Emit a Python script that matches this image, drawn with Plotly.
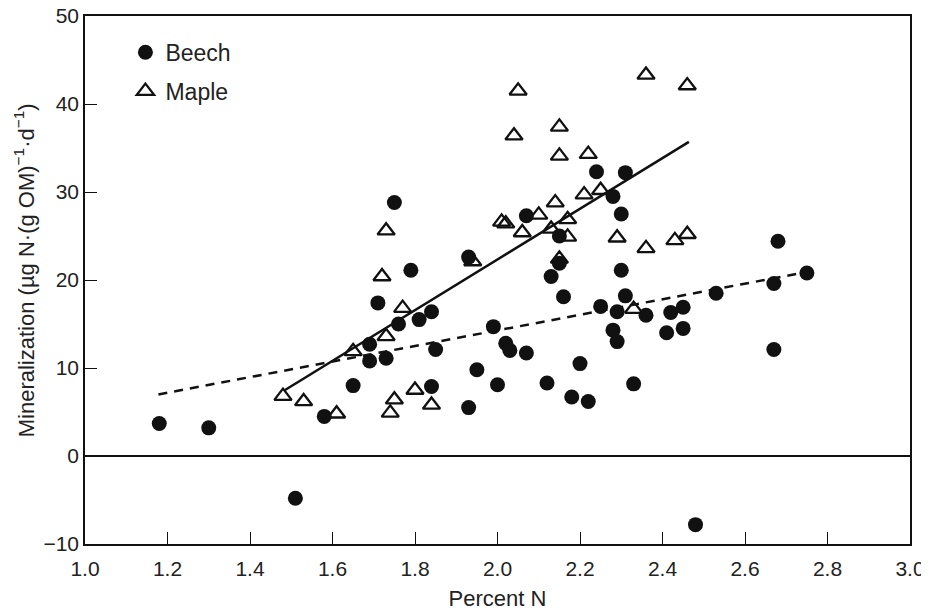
import plotly.graph_objects as go

# ---- data ----
beech_x = [1.18, 1.30, 1.51, 1.58, 1.65, 1.69, 1.69, 1.73, 1.71, 1.76,
           1.81, 1.84, 1.79, 1.75, 1.85, 1.84, 1.93, 1.93, 1.95, 1.99,
           2.02, 2.03, 2.00, 2.07, 2.07, 2.12, 2.13, 2.15, 2.15, 2.16,
           2.18, 2.20, 2.22, 2.24, 2.31, 2.28, 2.30, 2.30, 2.31, 2.25,
           2.29, 2.28, 2.29, 2.33, 2.36, 2.41, 2.42, 2.45, 2.45, 2.48,
           2.53, 2.67, 2.68, 2.67, 2.75]
beech_y = [3.7, 3.2, -4.8, 4.5, 8.0, 12.7, 10.8, 11.1, 17.4, 15.0,
           15.5, 16.4, 21.1, 28.8, 12.1, 7.9, 22.6, 5.5, 9.8, 14.7,
           12.8, 12.0, 8.1, 11.7, 27.3, 8.3, 20.4, 21.9, 25.0, 18.1,
           6.7, 10.5, 6.2, 32.3, 32.2, 29.5, 27.5, 21.1, 18.2, 17.0,
           16.4, 14.3, 13.0, 8.2, 16.0, 14.0, 16.3, 14.5, 16.9, -7.8,
           18.5, 19.6, 24.4, 12.1, 20.8]

maple_x = [1.48, 1.53, 1.61, 1.65, 1.73, 1.72, 1.73, 1.77, 1.75, 1.74,
           1.80, 1.84, 1.94, 2.01, 2.02, 2.05, 2.04, 2.10, 2.06, 2.13,
           2.14, 2.15, 2.15, 2.15, 2.17, 2.17, 2.21, 2.22, 2.25, 2.29,
           2.33, 2.36, 2.36, 2.43, 2.46, 2.46]
maple_y = [6.8, 6.2, 4.8, 11.9, 13.6, 20.4, 25.6, 16.8, 6.4, 4.9,
           7.5, 5.8, 22.1, 26.6, 26.4, 41.5, 36.4, 27.4, 25.4, 25.8,
           28.8, 37.4, 34.1, 22.4, 26.9, 24.9, 29.7, 34.3, 30.2, 24.8,
           16.7, 43.3, 23.6, 24.5, 42.1, 25.2]

# regression lines (end points)
maple_fit_x = [1.485, 2.464]
maple_fit_y = [7.5, 35.7]
beech_fit_x = [1.178, 2.76]
beech_fit_y = [7.0, 21.0]

x_ticks = [1.0, 1.2, 1.4, 1.6, 1.8, 2.0, 2.2, 2.4, 2.6, 2.8, 3.0]
y_ticks = [-10, 0, 10, 20, 30, 40, 50]

x_title = "Percent N"
y_title = "Mineralization (\u00b5g N\u00b7(g OM)<sup>\u22121</sup>\u00b7d<sup>\u22121</sup>)"

FONT = "Liberation Sans, Arial, sans-serif"
INK = "#111111"
TXT = "#222222"

fig = go.Figure()

fig.add_trace(go.Scatter(
    x=maple_x, y=maple_y, mode="markers", name="Maple",
    legendgroup="m", legendrank=2,
    marker=dict(symbol="triangle-up-open", size=15, color=INK,
                line=dict(width=2.3, color=INK)),
))
fig.add_trace(go.Scatter(
    x=beech_x, y=beech_y, mode="markers", name="Beech",
    legendgroup="b", legendrank=1,
    marker=dict(symbol="circle", size=15, color=INK,
                line=dict(width=0)),
))
fig.add_trace(go.Scatter(
    x=maple_fit_x, y=maple_fit_y, mode="lines", showlegend=False,
    line=dict(color=INK, width=2.5),
))
fig.add_trace(go.Scatter(
    x=beech_fit_x, y=beech_fit_y, mode="lines", showlegend=False,
    line=dict(color=INK, width=2.5, dash="9px,7px"),
))

axis_common = dict(
    showline=True, linecolor=INK, linewidth=1.5, mirror=True,
    ticks="inside", ticklen=12, tickwidth=1.3, tickcolor=INK,
    showgrid=False, automargin=False, ticklabeloverflow="allow",
    tickfont=dict(family=FONT, size=21, color=TXT),
)

# the page body adds an 8px offset; the figure is sized to fit the window
fig.update_layout(
    width=921, height=606,
    margin=dict(l=77, r=19, t=8, b=70),
    paper_bgcolor="white", plot_bgcolor="white",
    font=dict(family=FONT, color=TXT),
    showlegend=True,
    legend=dict(
        x=0.049, y=0.972, xanchor="left", yanchor="top",
        bgcolor="rgba(0,0,0,0)", borderwidth=0,
        font=dict(family=FONT, size=23, color=TXT),
        traceorder="grouped", tracegroupgap=6,
    ),
    xaxis=dict(
        range=[1.0, 3.0], tickvals=x_ticks,
        ticktext=[f"{v:.1f}" for v in x_ticks],
        zeroline=False, ticklabelstandoff=5,
        title=dict(text=x_title, font=dict(family=FONT, size=22, color=TXT),
                   standoff=12),
        **axis_common,
    ),
    yaxis=dict(
        range=[-10, 50], tickvals=y_ticks,
        ticktext=[("\u2212" + str(-v)) if v < 0 else str(v) for v in y_ticks],
        zeroline=True, zerolinecolor=INK, zerolinewidth=1.5,
        **axis_common,
    ),
    annotations=[dict(
        text=y_title, textangle=-90, showarrow=False,
        xref="paper", yref="paper", x=-0.073, y=0.518,
        xanchor="center", yanchor="middle",
        font=dict(family=FONT, size=22, color=TXT),
    )],
)

fig.write_html("out.html")
